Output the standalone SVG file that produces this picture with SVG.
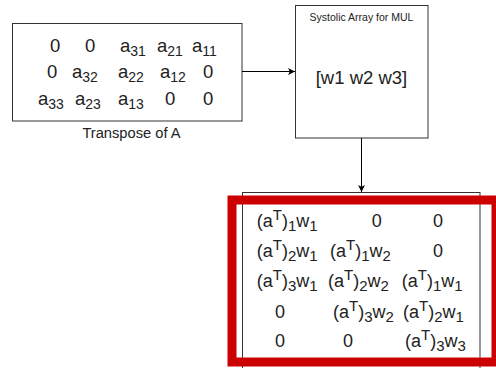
<svg xmlns="http://www.w3.org/2000/svg" width="496" height="368" viewBox="0 0 496 368">
<style>
  .box { fill: #ffffff; stroke: #333333; stroke-width: 1; }
  text { font-family: "Liberation Sans", Arial, sans-serif; fill: #222222; }
  .m { font-size: 18.5px; }
  .o { font-size: 18px; }
  .s { font-size: 14px; }
  .t { font-size: 15px; }
  .c { text-anchor: middle; }
  .conn { stroke: #000000; stroke-width: 1; fill: none; }
  .hl { fill: none; stroke: #CC0000; stroke-width: 9; }
</style>
<defs>
  <marker id="arr" markerWidth="8" markerHeight="8" refX="7" refY="4" orient="auto" markerUnits="userSpaceOnUse">
    <path d="M0,0.5 L7,4 L0,7.5 L1.8,4 Z" fill="#000000"/>
  </marker>
</defs>
<rect width="496" height="368" fill="#ffffff"/>

<g id="node-transpose">
  <rect class="box" x="12.5" y="23.5" width="229.5" height="97.5"/>
  <text class="m" x="50" y="51.5">0</text>
  <text class="m" x="85" y="51.5">0</text>
  <text class="m" x="120" y="51.5">a<tspan class="s" dy="4">31</tspan></text>
  <text class="m" x="157" y="51.5">a<tspan class="s" dy="4">21</tspan></text>
  <text class="m" x="192" y="51.5">a<tspan class="s" dy="4">11</tspan></text>
  <text class="m" x="47" y="78">0</text>
  <text class="m" x="72" y="78">a<tspan class="s" dy="4">32</tspan></text>
  <text class="m" x="118" y="78">a<tspan class="s" dy="4">22</tspan></text>
  <text class="m" x="160" y="78">a<tspan class="s" dy="4">12</tspan></text>
  <text class="m" x="203" y="78">0</text>
  <text class="m" x="38" y="104.5">a<tspan class="s" dy="4">33</tspan></text>
  <text class="m" x="75" y="104.5">a<tspan class="s" dy="4">23</tspan></text>
  <text class="m" x="118" y="104.5">a<tspan class="s" dy="4">13</tspan></text>
  <text class="m" x="165" y="104.5">0</text>
  <text class="m" x="203" y="104.5">0</text>
  <text class="c" x="131.5" y="137.5" font-size="14.7">Transpose of A</text>
</g>

<g id="node-systolic">
  <rect class="box" x="295.5" y="5.5" width="132.5" height="132.5"/>
  <text class="c" x="361.5" y="20.5" font-size="10.5">Systolic Array for MUL</text>
  <text class="c" x="361.5" y="84" font-size="18.5">[w1 w2 w3]</text>
</g>

<g id="node-output">
  <rect class="box" x="242.5" y="192.5" width="237.5" height="190"/>
  <text class="o" x="256.7" y="226.5">(a<tspan class="t" dy="-7">T</tspan><tspan dy="7">)</tspan><tspan class="t" dy="4">1</tspan><tspan dy="-4">w</tspan><tspan class="t" dy="4">1</tspan></text>
  <text class="o c" x="376.7" y="226.5">0</text>
  <text class="o c" x="438" y="226.5">0</text>

  <text class="o" x="256.7" y="257">(a<tspan class="t" dy="-7">T</tspan><tspan dy="7">)</tspan><tspan class="t" dy="4">2</tspan><tspan dy="-4">w</tspan><tspan class="t" dy="4">1</tspan></text>
  <text class="o" x="330" y="257">(a<tspan class="t" dy="-7">T</tspan><tspan dy="7">)</tspan><tspan class="t" dy="4">1</tspan><tspan dy="-4">w</tspan><tspan class="t" dy="4">2</tspan></text>
  <text class="o c" x="438" y="257">0</text>

  <text class="o" x="256.7" y="287">(a<tspan class="t" dy="-7">T</tspan><tspan dy="7">)</tspan><tspan class="t" dy="4">3</tspan><tspan dy="-4">w</tspan><tspan class="t" dy="4">1</tspan></text>
  <text class="o" x="328" y="287">(a<tspan class="t" dy="-7">T</tspan><tspan dy="7">)</tspan><tspan class="t" dy="4">2</tspan><tspan dy="-4">w</tspan><tspan class="t" dy="4">2</tspan></text>
  <text class="o" x="401.7" y="287">(a<tspan class="t" dy="-7">T</tspan><tspan dy="7">)</tspan><tspan class="t" dy="4">1</tspan><tspan dy="-4">w</tspan><tspan class="t" dy="4">1</tspan></text>

  <text class="o c" x="280" y="317.5">0</text>
  <text class="o" x="333" y="317.5">(a<tspan class="t" dy="-7">T</tspan><tspan dy="7">)</tspan><tspan class="t" dy="4">3</tspan><tspan dy="-4">w</tspan><tspan class="t" dy="4">2</tspan></text>
  <text class="o" x="403" y="317.5">(a<tspan class="t" dy="-7">T</tspan><tspan dy="7">)</tspan><tspan class="t" dy="4">2</tspan><tspan dy="-4">w</tspan><tspan class="t" dy="4">1</tspan></text>

  <text class="o c" x="280" y="347">0</text>
  <text class="o c" x="348" y="347">0</text>
  <text class="o" x="405" y="347">(a<tspan class="t" dy="-7">T</tspan><tspan dy="7">)</tspan><tspan class="t" dy="4">3</tspan><tspan dy="-4">w</tspan><tspan class="t" dy="4">3</tspan></text>
</g>

<g id="highlight">
  <rect class="hl" x="232" y="200" width="264" height="162"/>
</g>

<g id="connectors">
  <line class="conn" x1="242" y1="71.5" x2="295" y2="71.5" marker-end="url(#arr)"/>
  <line class="conn" x1="361.5" y1="138" x2="361.5" y2="192" marker-end="url(#arr)"/>
</g>
</svg>
